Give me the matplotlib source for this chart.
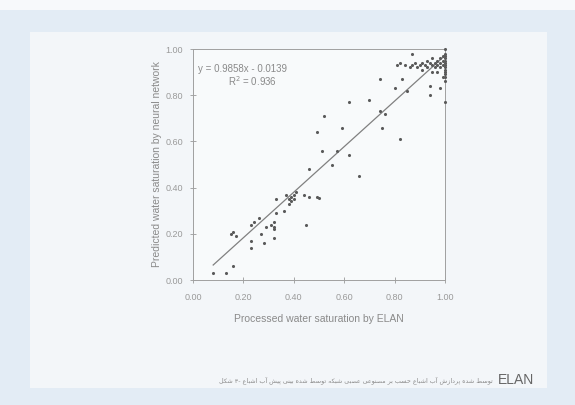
import unicodedata
import matplotlib
matplotlib.use('Agg')
import matplotlib.pyplot as plt
from matplotlib.patches import Rectangle

# water saturation processed by ELAN (x) vs predicted by neural network (y)
sw_elan = [0.08, 0.13, 0.16, 0.15, 0.17, 0.16, 0.23, 0.23, 0.24, 0.23,
           0.26, 0.27, 0.28, 0.29, 0.32, 0.32, 0.32, 0.31, 0.32, 0.33,
           0.33, 0.36, 0.37, 0.38, 0.39, 0.39, 0.40, 0.38, 0.40, 0.41,
           0.44, 0.46, 0.49, 0.50, 0.45, 0.66,
           0.46, 0.55, 0.51, 0.57, 0.62, 0.49, 0.59, 0.75, 0.82, 0.52,
           0.62, 0.70, 0.74, 0.76, 0.74, 0.80, 0.83, 0.85, 0.81, 0.87,
           0.94, 0.98, 0.94, 1.00, 0.99,
           0.82, 0.84, 0.86, 0.87, 0.88, 0.89, 0.90, 0.91, 0.91, 0.92,
           0.93, 0.93, 0.94, 0.95, 0.95, 0.96, 0.96, 0.97, 0.97, 0.98,
           0.98, 0.98, 0.99, 0.99, 0.99, 1.00, 1.00, 1.00, 1.00, 1.00,
           1.00, 1.00, 1.00, 1.00, 1.00, 1.00, 1.00, 1.00, 0.97, 0.95]
sw_nn = [0.03, 0.03, 0.06, 0.20, 0.19, 0.21, 0.17, 0.14, 0.25, 0.24,
         0.27, 0.20, 0.16, 0.23, 0.23, 0.22, 0.25, 0.24, 0.18, 0.29,
         0.35, 0.30, 0.37, 0.35, 0.34, 0.36, 0.37, 0.33, 0.35, 0.38,
         0.37, 0.36, 0.36, 0.355, 0.24, 0.45,
         0.48, 0.50, 0.56, 0.56, 0.54, 0.64, 0.66, 0.66, 0.61, 0.71,
         0.77, 0.78, 0.73, 0.72, 0.87, 0.83, 0.87, 0.82, 0.93, 0.98,
         0.84, 0.83, 0.80, 0.77, 0.88,
         0.94, 0.93, 0.92, 0.93, 0.94, 0.92, 0.93, 0.94, 0.91, 0.93,
         0.95, 0.92, 0.94, 0.93, 0.96, 0.94, 0.92, 0.95, 0.93, 0.96,
         0.94, 0.92, 0.95, 0.97, 0.93, 1.00, 0.98, 0.97, 0.96, 0.95,
         0.94, 0.93, 0.92, 0.91, 0.90, 0.89, 0.88, 0.86, 0.90, 0.90]

# linear trend reported on the chart
slope = 0.9858
intercept = -0.0139
r2 = 0.936

ticks = [0.0, 0.2, 0.4, 0.6, 0.8, 1.0]

caption = 'شکل ۳- اشباع آب پیش بینی شده توسط شبکه عصبی مصنوعی بر حسب اشباع آب پردازش شده توسط'
caption_latin = 'ELAN'


def arabic_forms():
    # build letter -> positional forms table from unicode presentation forms
    table = {}
    cps = list(range(0xFB50, 0xFDFF)) + list(range(0xFE70, 0xFEFF))
    for cp in cps:
        name = unicodedata.name(chr(cp), '')
        if not name.startswith('ARABIC LETTER '):
            continue
        for form in ('ISOLATED', 'FINAL', 'INITIAL', 'MEDIAL'):
            suffix = ' ' + form + ' FORM'
            if name.endswith(suffix):
                try:
                    ch = unicodedata.lookup(name[:-len(suffix)])
                except KeyError:
                    continue
                table.setdefault(ch, {}).setdefault(form, chr(cp))
    return table


FORMS = arabic_forms()


def shape_word(text):
    def joins_next(c):
        return c in FORMS and 'INITIAL' in FORMS[c]

    def joins_prev(c):
        return c in FORMS and 'FINAL' in FORMS[c]

    if not any(c in FORMS for c in text):
        return text
    out = []
    for i, c in enumerate(text):
        if c not in FORMS:
            out.append(c)
            continue
        prev = text[i - 1] if i > 0 else ''
        nxt = text[i + 1] if i + 1 < len(text) else ''
        p = joins_next(prev) and joins_prev(c)
        n = joins_next(c) and joins_prev(nxt)
        if p and n:
            form = 'MEDIAL'
        elif p:
            form = 'FINAL'
        elif n:
            form = 'INITIAL'
        else:
            form = 'ISOLATED'
        out.append(FORMS[c].get(form, FORMS[c].get('ISOLATED', c)))
    return ''.join(out)[::-1]


# the scan sets the words left to right, each word drawn right to left
caption_visual = ' '.join(shape_word(w) for w in caption.split(' '))

fig = plt.figure(figsize=(5.75, 4.05), dpi=100)
fig.patch.set_facecolor('#e3ecf5')
fig.patches.append(Rectangle((0, 0.975), 1, 0.025, transform=fig.transFigure,
                             facecolor='#f7f9fb', edgecolor='none', zorder=-10))
fig.patches.append(Rectangle((0.052, 0.042), 0.9, 0.88, transform=fig.transFigure,
                             facecolor='#f3f6f9', edgecolor='none', zorder=-9))

ax = fig.add_axes([0.3357, 0.3086, 0.4383, 0.5704])
ax.set_facecolor('#f8fafb')

ax.scatter(sw_elan, sw_nn, s=5, color='#5a5a5a', linewidths=0, clip_on=False, zorder=3)
x0, x1 = min(sw_elan), max(sw_elan)
ax.plot([x0, x1], [slope * x0 + intercept, slope * x1 + intercept],
        color='#808080', lw=0.9, zorder=2)

ax.set_xlim(0, 1)
ax.set_ylim(0, 1)
ax.set_xticks(ticks)
ax.set_yticks(ticks)
ax.set_xticklabels(['%.2f' % t for t in ticks])
ax.set_yticklabels(['%.2f' % t for t in ticks])
ax.tick_params(direction='inout', length=4, width=0.6, color='#999999',
               labelsize=6.5, labelcolor='#9a9a9a')
ax.tick_params(axis='x', pad=7)
ax.tick_params(axis='y', pad=5)
for s in ax.spines.values():
    s.set_color('#a0a0a0')
    s.set_linewidth(0.7)

lab_font = 'Liberation Sans'
for t in ax.get_xticklabels() + ax.get_yticklabels():
    t.set_family(lab_font)

ax.set_xlabel('Processed water saturation by ELAN', fontsize=7.5, color='#8a8a8a',
              family=lab_font, labelpad=9)
ax.set_ylabel('Predicted water saturation by neural network', fontsize=7.5,
              color='#8a8a8a', family=lab_font, labelpad=3)

ax.text(0.02, 0.9, 'y = %.4fx - %.4f' % (slope, -intercept), transform=ax.transAxes,
        fontsize=7, color='#8a8a8a', family=lab_font)
ax.text(0.14, 0.84, 'R$^2$ = %.3f' % r2, transform=ax.transAxes,
        fontsize=7, color='#8a8a8a', family=lab_font)

fig.text(0.857, 0.062, caption_visual, ha='right', va='center',
         fontsize=4.6, color='#8a8a8a', family=['DejaVu Sans', 'Noto Sans'])
fig.text(0.866, 0.062, caption_latin, ha='left', va='center',
         fontsize=10, color='#666666', family=lab_font)

fig.savefig('out.png', dpi=100, facecolor=fig.get_facecolor())
